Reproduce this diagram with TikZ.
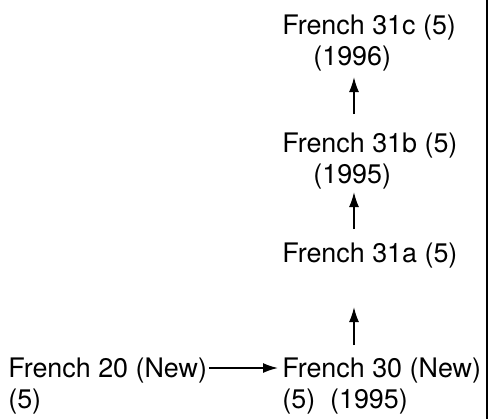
\documentclass[tikz,border=0pt]{standalone}
\usepackage{fontspec}
\setmainfont{TeX Gyre Heros}
\usetikzlibrary{arrows.meta,positioning}

\begin{document}
\begin{tikzpicture}[>={Latex[length=3mm,width=2mm]}, x=0.02cm, y=-0.02cm]
  \tikzstyle{course}=[align=left, inner sep=0pt, anchor=base west, font=\fontsize{15.3}{17.6}\selectfont]
  \tikzstyle{link}=[->, line width=0.9pt]
  \useasboundingbox (0,0) rectangle (489,419);
  % base anchor sits on the last line
  \node[course] (f31c) at (282,65) {French 31c (5)\\\hspace*{0.62cm}(1996)};
  \node[course] (f31b) at (282,183) {French 31b (5)\\\hspace*{0.62cm}(1995)};
  \node[course] (f31a) at (282,262) {French 31a (5)};
  \node[course] (f30) at (282,408) {French 30 (New)\\(5)\ \ (1995)};
  \node[course] (f20) at (8,408) {French 20 (New)\\(5)};
  \draw[link, shorten <=0.36cm, shorten >=0.12cm] ([xshift=1.44cm]f31b.north west) -- ([xshift=1.44cm]f31c.south west);
  \draw[link, shorten <=0.26cm, shorten >=0.06cm] ([xshift=1.44cm]f31a.north west) -- ([xshift=1.44cm]f31b.south west);
  \draw[link, shorten <=0.24cm, shorten >=0.78cm] ([xshift=1.44cm]f30.north west) -- ([xshift=1.44cm]f31a.south west);
  \draw[link, shorten <=0.04cm, shorten >=0.08cm] (f20.east |- 0,368) -- (f30.west |- 0,368);
  \draw[line width=1.2pt] (487,0) -- (487,419);
\end{tikzpicture}
\end{document}
